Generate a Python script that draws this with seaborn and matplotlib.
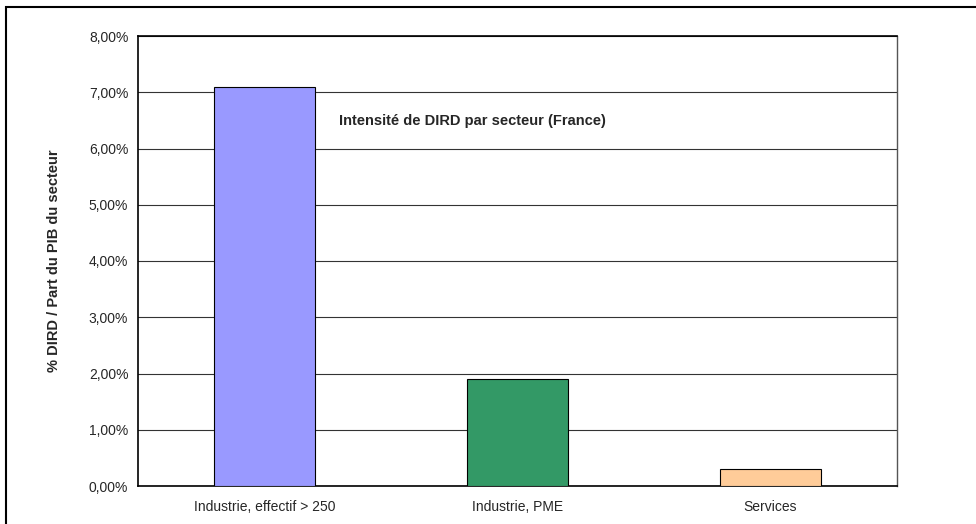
import numpy as np
import pandas as pd
import seaborn as sns
import matplotlib
matplotlib.use("Agg")
import matplotlib.pyplot as plt
from matplotlib.patches import Rectangle

sns.set_style("white")
plt.rcParams["font.family"] = ["Liberation Sans", "DejaVu Sans"]

categories = ["Industrie, effectif > 250", "Industrie, PME", "Services"]
values = [7.1, 1.9, 0.3]
colors = ["#9999FF", "#339966", "#FFCC99"]
yticks = [0, 1, 2, 3, 4, 5, 6, 7, 8]

df = pd.DataFrame({"secteur": categories, "dird": values})

fig = plt.figure(figsize=(9.76, 5.24), dpi=100)
ax = fig.add_axes([138/976, 1-486/524, (897-138)/976, (486-36)/524])

sns.barplot(data=df, x="secteur", y="dird", hue="secteur", palette=colors, saturation=1,
            width=0.4, edgecolor="black", linewidth=0.8, legend=False, ax=ax, zorder=3)

ax.set_ylim(0, 8)
ax.set_xlim(-0.5, 2.5)
ax.set_yticks(yticks)
ax.set_yticklabels([f"{v:.2f}%".replace(".", ",") for v in yticks], fontsize=10)
ax.yaxis.grid(True, color="#333333", linewidth=0.8, zorder=0)
ax.set_axisbelow(True)

# category ticks sit between the bars, like the original
ax.set_xticks([0, 1, 2])
ax.set_xticklabels(categories, fontsize=10)
ax.tick_params(axis="x", length=0, pad=10)
ax.set_xticks([-0.5, 0.5, 1.5, 2.5], minor=True)
ax.tick_params(axis="x", which="minor", length=4, width=1, color="black", direction="out")
ax.tick_params(axis="y", length=4, width=1, color="black", direction="out", pad=3)

ax.set_xlabel("")
ax.set_ylabel("% DIRD / Part du PIB du secteur", fontsize=10.5, fontweight="bold", labelpad=20)

for side in ["left", "bottom", "top"]:
    ax.spines[side].set_color("black")
    ax.spines[side].set_linewidth(1.2)
ax.spines["right"].set_color("#555555")
ax.spines["right"].set_linewidth(1)

ax.text(0.265, 0.81, "Intensité de DIRD par secteur (France)", transform=ax.transAxes,
        fontsize=10.5, fontweight="bold", va="center", ha="left")

# outer chart border
fig.patches.append(Rectangle((6/976, -0.1), 1.2, 1-7/524+0.1, transform=fig.transFigure,
                             fill=False, edgecolor="black", linewidth=1.5))

fig.savefig("out.png", dpi=100)
